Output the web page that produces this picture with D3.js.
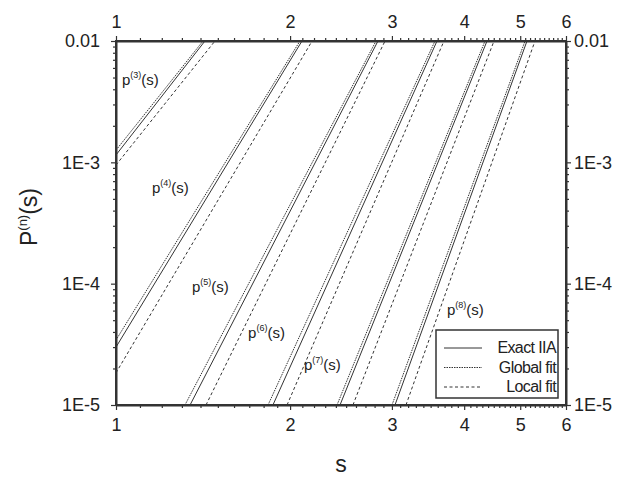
<!DOCTYPE html>
<html><head><meta charset="utf-8">
<script src="https://cdn.jsdelivr.net/npm/d3@7"></script>
<style>body{margin:0;background:#fff}text{font-family:"Liberation Sans",Arial,sans-serif;fill:#222}</style>
</head><body><svg id="c" width="623" height="483"></svg>
<script>
const orders = [3,4,5,6,7,8];
// each curve: [[s, P], [s, P]] endpoints
const exactIIA = [
  [[1,1.15e-3],[1.425,0.01]],
  [[1,3.0e-5],[2.097,0.01]],
  [[1.343,1e-5],[2.838,0.01]],
  [[1.868,1e-5],[3.590,0.01]],
  [[2.440,1e-5],[4.381,0.01]],
  [[3.037,1e-5],[5.137,0.01]]
];
const globalFit = [
  [[1,1.26e-3],[1.414,0.01]],
  [[1,3.43e-5],[2.080,0.01]],
  [[1.316,1e-5],[2.816,0.01]],
  [[1.832,1e-5],[3.561,0.01]],
  [[2.411,1e-5],[4.346,0.01]],
  [[3.001,1e-5],[5.097,0.01]]
];
const localFit = [
  [[1,9.5e-4],[1.483,0.01]],
  [[1,1.84e-5],[2.183,0.01]],
  [[1.431,1e-5],[2.919,0.01]],
  [[1.976,1e-5],[3.691,0.01]],
  [[2.569,1e-5],[4.505,0.01]],
  [[3.173,1e-5],[5.303,0.01]]
];
// curve label anchors [s, P]
const labelPos = [[1.024,4.3e-3],[1.154,5.6e-4],[1.353,8.5e-5],[1.692,3.56e-5],[2.114,1.94e-5],[3.736,5.5e-5]];
const xTicks = [1,2,3,4,5,6];
const yTicks = [1e-2,1e-3,1e-4,1e-5];
const yTickLabels = ["0.01","1E-3","1E-4","1E-5"];
const legendNames = ["Exact IIA","Global fit","Local fit"];

const svg = d3.select("#c");
const L=116,R=566,T=41,B=405;
const x = d3.scaleLog().domain([1,6]).range([L,R]);
const y = d3.scaleLog().domain([1e-5,1e-2]).range([B,T]);

const xMinor = d3.range(11,60).map(v=>v/10).filter(v=>!xTicks.includes(v));
const yMinor = [];
[1e-5,1e-4,1e-3].forEach(d=>{for(let k=2;k<=9;k++) yMinor.push(d*k);});

svg.append("defs").append("clipPath").attr("id","pc").append("rect")
  .attr("x",L).attr("y",T).attr("width",R-L).attr("height",B-T);

const line = d3.line().x(d=>x(d[0])).y(d=>y(d[1]));
const g = svg.append("g").attr("clip-path","url(#pc)");
const styles = [
  {data:exactIIA, dash:null},
  {data:globalFit, dash:"1.5,1"},
  {data:localFit, dash:"3,2.5"}
];
styles.forEach(st=>{
  g.selectAll(null).data(st.data).enter().append("path")
    .attr("d",line).attr("fill","none").attr("stroke","#333").attr("stroke-width",1)
    .attr("stroke-dasharray",st.dash);
});

// axes
function axis(gen, tx, ty, vals, fmt, size, pad){
  const a = svg.append("g").attr("transform",`translate(${tx},${ty})`)
    .call(gen.tickValues(vals).tickFormat(fmt).tickSize(size).tickSizeOuter(0).tickPadding(pad||3));
  a.select(".domain").attr("stroke","#333").attr("stroke-width",2);
  a.selectAll(".tick line").attr("stroke","#333").attr("stroke-width",1.2);
  a.selectAll("text").style("font-size","18px").attr("fill","#222");
  return a;
}
axis(d3.axisBottom(x),0,B,xMinor,()=>"",3).select(".domain").remove();
axis(d3.axisTop(x),0,T,xMinor,()=>"",3).select(".domain").remove();
axis(d3.axisLeft(y),L,0,yMinor,()=>"",3).select(".domain").remove();
axis(d3.axisRight(y),R,0,yMinor,()=>"",3).select(".domain").remove();
axis(d3.axisBottom(x),0,B,xTicks,d3.format("d"),5,6).selectAll("text").attr("dy","0.85em");
axis(d3.axisTop(x),0,T,xTicks,d3.format("d"),5,8).selectAll("text").attr("dy","0em");
axis(d3.axisLeft(y),L,0,yTicks,(d,i)=>yTickLabels[i],5,11);
axis(d3.axisRight(y),R,0,yTicks,(d,i)=>yTickLabels[i],5,3);
svg.append("rect").attr("x",L).attr("y",T).attr("width",R-L).attr("height",B-T)
  .attr("fill","none").attr("stroke","#333").attr("stroke-width",2);

// curve labels
labelPos.forEach((p,i)=>{
  const t = svg.append("text").attr("x",x(p[0])).attr("y",y(p[1])).style("font-size","15px");
  t.append("tspan").text("p");
  t.append("tspan").attr("dy",-7).style("font-size","9px").text(`(${orders[i]})`);
  t.append("tspan").attr("dy",7).text("(s)");
});

// axis titles
svg.append("text").attr("x",(L+R)/2).attr("y",472).attr("text-anchor","middle")
  .style("font-size","23px").text("s");
const yt = svg.append("text").attr("transform","translate(37,217) rotate(-90)")
  .attr("text-anchor","middle").style("font-size","23px");
yt.append("tspan").text("P");
yt.append("tspan").attr("dy",-10).style("font-size","13px").text("(n)");
yt.append("tspan").attr("dy",10).text("(s)");

// legend
const lg = svg.append("g");
lg.append("rect").attr("x",436).attr("y",330).attr("width",122).attr("height",68)
  .attr("fill","#fff").attr("stroke","#333").attr("stroke-width",1.5);
legendNames.forEach((n,i)=>{
  const yy = 348 + i*19.5;
  lg.append("line").attr("x1",444).attr("x2",482).attr("y1",yy).attr("y2",yy)
    .attr("stroke","#333").attr("stroke-width",1).attr("stroke-dasharray",styles[i].dash);
  lg.append("text").attr("x",556).attr("y",yy+5).attr("text-anchor","end")
    .style("font-size","16px").style("letter-spacing","-0.6px").text(n);
});
</script></body></html>
